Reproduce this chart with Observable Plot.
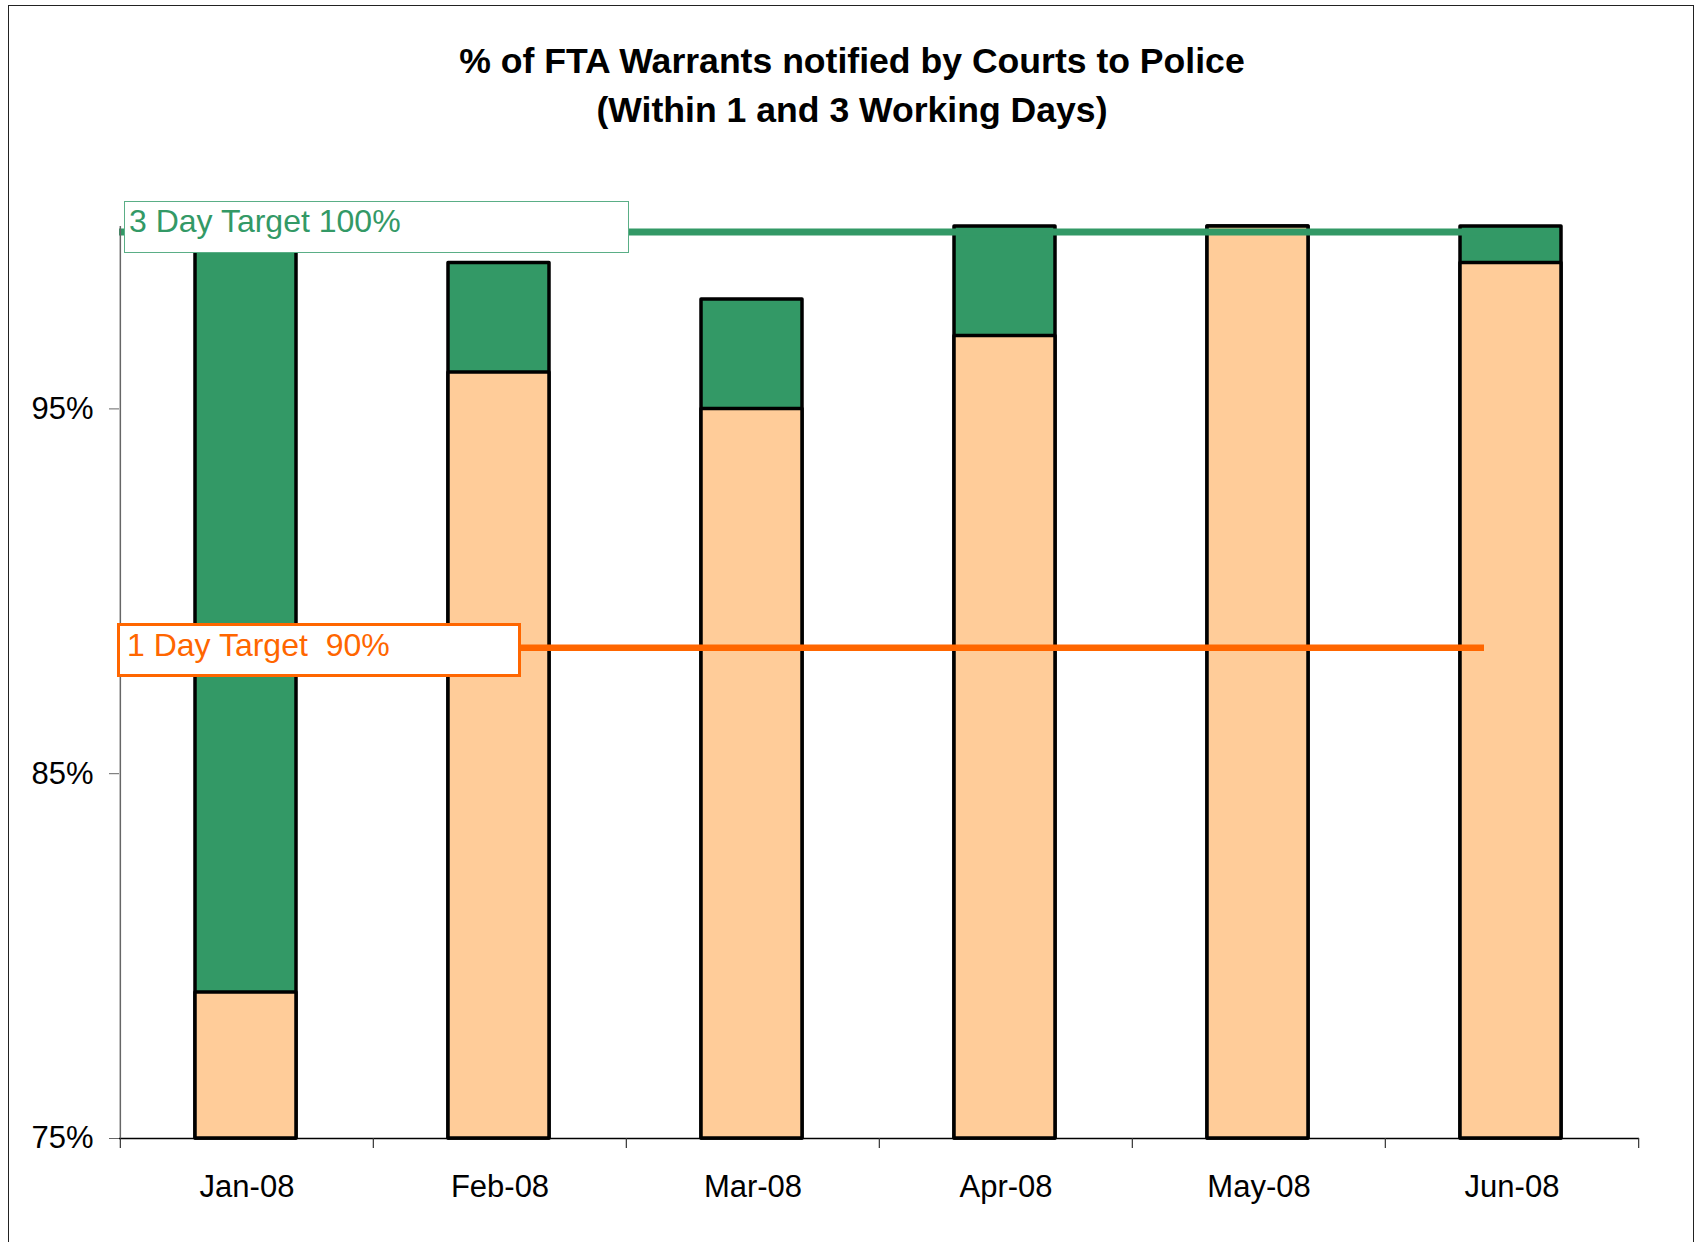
<!DOCTYPE html>
<html>
<head>
<meta charset="utf-8">
<script src="https://cdn.jsdelivr.net/npm/d3@7"></script>
<script src="https://cdn.jsdelivr.net/npm/@observablehq/plot@0.6"></script>
<style>
  body { margin: 0; background: #fff; }
  #wrap { position: relative; width: 1695px; height: 1242px; overflow: hidden; font-family: "Liberation Sans", Arial, sans-serif; }
  #frame { position: absolute; left: 8px; top: 5px; width: 1686px; height: 1300px; border: 1.6px solid #222; box-sizing: border-box; }
  #title { position: absolute; left: 352px; top: 37px; width: 1000px; text-align: center; font-weight: bold; font-size: 35.6px; line-height: 48.7px; color: #000; }
  #chart { position: absolute; left: 0; top: 0; }
  .note { position: absolute; box-sizing: border-box; background: #fff; font-size: 32px; line-height: 38px; white-space: pre; }
  #note3 { left: 124px; top: 201px; width: 505px; height: 52px; border: 1.2px solid #5aae86; color: #339966; padding-left: 4px; }
  #note1 { left: 117px; top: 623px; width: 404px; height: 54px; border: 3.3px solid #FF6600; color: #FF6600; padding-left: 7px; }
</style>
</head>
<body>
<div id="wrap">
  <div id="chart"></div>
  <div id="frame"></div>
  <div id="title"></div>
  <div class="note" id="note3"></div>
  <div class="note" id="note1"></div>
</div>
<script>
// ---- data ----
const months = ["Jan-08", "Feb-08", "Mar-08", "Apr-08", "May-08", "Jun-08"];
const within3Days = [100, 99, 98, 100, 100, 100];   // % notified within 3 working days
const within1Day  = [79, 96, 95, 97, 100, 99];      // % notified within 1 working day
const yTicks = [75, 85, 95];
const yDomain = [75, 100];
const target3Line = 99.85;   // drawn position of the 3-day target line
const target1Line = 88.45;   // drawn position of the 1-day target line
const target3Label = "3 Day Target 100%";
const target1Label = "1 Day Target  90%";
const titleLines = ["% of FTA Warrants notified by Courts to Police", "(Within 1 and 3 Working Days)"];

const data = months.map((m, i) => ({month: m, d3: within3Days[i], d1: within1Day[i]}));

// ---- layout ----
const W = 1695, H = 1242, mL = 119, mR = 56, mT = 226, mB = 104;
const step = (W - mL - mR) / months.length;
const pxPerUnit = (H - mT - mB) / (yDomain[1] - yDomain[0]);
const tickLenData = 10 / pxPerUnit;
const lineInsetRight = 155;

document.getElementById("title").innerHTML = titleLines.join("<br>");
document.getElementById("note3").textContent = target3Label;
document.getElementById("note1").textContent = target1Label;

const chart = Plot.plot({
  width: W, height: H,
  marginLeft: mL, marginRight: mR, marginTop: mT, marginBottom: mB,
  style: {fontFamily: "'Liberation Sans', Arial, sans-serif", background: "transparent", color: "#000"},
  x: {domain: months, paddingInner: 0.6, paddingOuter: 0.3, label: null},
  y: {domain: yDomain, label: null},
  marks: [
    Plot.barY(data, {x: "month", y1: yDomain[0], y2: "d3", dx: -1, fill: "#339966", stroke: "#000", strokeWidth: 3.5, strokeLinejoin: "round"}),
    Plot.barY(data, {x: "month", y1: yDomain[0], y2: "d1", dx: -1, fill: "#FFCC99", stroke: "#000", strokeWidth: 3.5, strokeLinejoin: "round"}),
    Plot.ruleY([target1Line], {stroke: "#FF6600", strokeWidth: 6.5, insetRight: lineInsetRight}),
    Plot.ruleY([target3Line], {stroke: "#339966", strokeWidth: 7, insetRight: lineInsetRight}),
    // x axis baseline
    Plot.ruleY([yDomain[0]], {stroke: "#000", strokeWidth: 1.6}),
    // y axis line
    Plot.ruleX([months[0]], {dx: -step / 2, y1: yDomain[0], y2: yDomain[1], stroke: "#666", strokeWidth: 1.5}),
    // x boundary ticks
    Plot.ruleX(months, {x: d => d, dx: -step / 2, y1: yDomain[0], y2: yDomain[0] - tickLenData, stroke: "#333", strokeWidth: 1.2}),
    Plot.ruleX([months[months.length - 1]], {dx: step / 2, y1: yDomain[0], y2: yDomain[0] - tickLenData, stroke: "#333", strokeWidth: 1.2}),
    Plot.axisY({ticks: yTicks, tickFormat: d => d + "%", tickSize: 10, tickPadding: 16, fontSize: 31, stroke: "#666", fill: "#000"}),
    Plot.axisX({tickSize: 0, tickPadding: 36, fontSize: 31, fill: "#000"})
  ]
});
document.getElementById("chart").appendChild(chart);
</script>
</body>
</html>
